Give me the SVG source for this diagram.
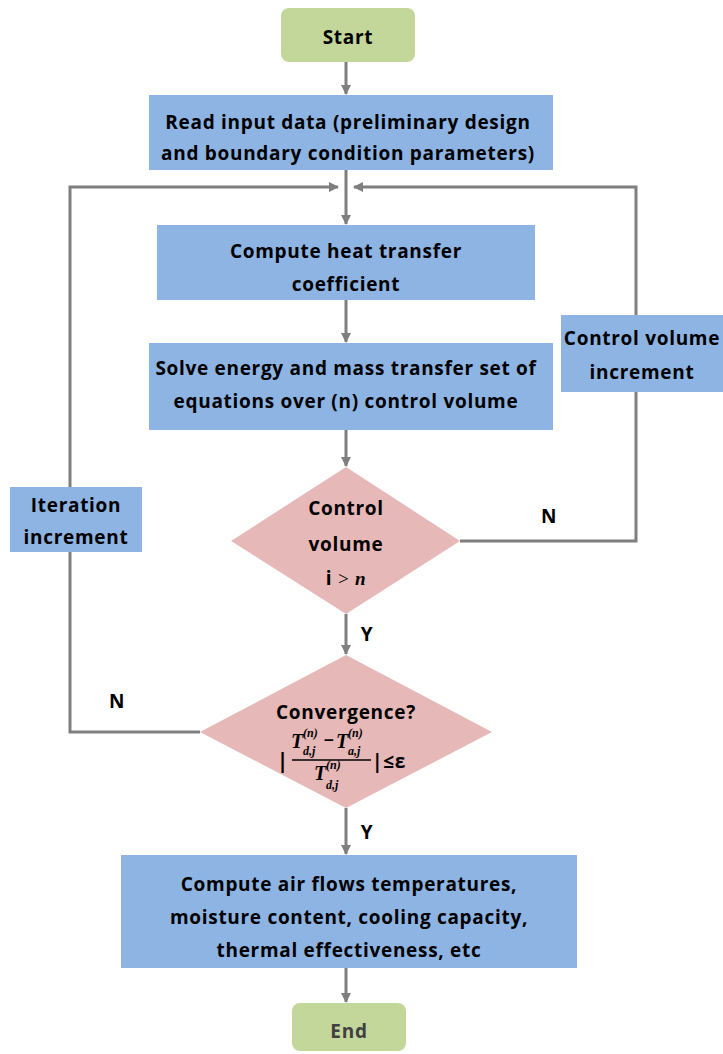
<svg xmlns="http://www.w3.org/2000/svg" width="723" height="1054" viewBox="0 0 723 1054">
<style>
.box{fill:#8db4e2;}
.term{fill:#c4d79b;}
.dia{fill:#e6b8b7;}
.t{font-family:"Open Sans","Liberation Sans",sans-serif;font-weight:bold;font-size:19px;letter-spacing:0.7px;fill:#000;text-anchor:middle;}
.c{stroke:#7f7f7f;stroke-width:3;fill:none;}
.m{font-family:"Liberation Serif",serif;font-style:italic;font-weight:bold;fill:#000;}
</style>
<defs>
<marker id="ah" markerWidth="10" markerHeight="10" refX="9" refY="5" orient="auto" markerUnits="userSpaceOnUse">
<path d="M0,0 L10,5 L0,10 Z" fill="#7f7f7f"/>
</marker>
</defs>
<rect width="723" height="1054" fill="#fff"/>
<g id="connectors">
<line class="c" x1="346" y1="62" x2="346" y2="94" marker-end="url(#ah)"/>
<line class="c" x1="346" y1="170" x2="346" y2="224" marker-end="url(#ah)"/>
<line class="c" x1="346" y1="300" x2="346" y2="342" marker-end="url(#ah)"/>
<line class="c" x1="346" y1="430" x2="346" y2="466" marker-end="url(#ah)"/>
<line class="c" x1="346" y1="614" x2="346" y2="654" marker-end="url(#ah)"/>
<line class="c" x1="346" y1="808" x2="346" y2="854" marker-end="url(#ah)"/>
<line class="c" x1="346" y1="968" x2="346" y2="1002" marker-end="url(#ah)"/>
<polyline class="c" points="460,541 636,541 636,187 354,187" marker-end="url(#ah)"/>
<polyline class="c" points="200,732 70,732 70,187 338,187" marker-end="url(#ah)"/>
</g>
<g id="start">
<rect class="term" x="281" y="8" width="134" height="54" rx="8"/>
<text class="t" x="348" y="44">Start</text>
</g>
<g id="read">
<rect class="box" x="149" y="95" width="404" height="75"/>
<text class="t" x="348" y="129">Read input data (preliminary design</text>
<text class="t" x="348" y="160">and boundary condition parameters)</text>
</g>
<g id="heat">
<rect class="box" x="157" y="225" width="378" height="75"/>
<text class="t" x="346" y="258">Compute heat transfer</text>
<text class="t" x="346" y="291">coefficient</text>
</g>
<g id="solve">
<rect class="box" x="149" y="343" width="404" height="87"/>
<text class="t" x="346" y="375">Solve energy and mass transfer set of</text>
<text class="t" x="346" y="408">equations over (n) control volume</text>
</g>
<g id="cvinc">
<rect class="box" x="561" y="315" width="162" height="77"/>
<text class="t" x="642" y="345">Control volume</text>
<text class="t" x="642" y="379">increment</text>
</g>
<g id="itinc">
<rect class="box" x="10" y="487" width="132" height="65"/>
<text class="t" x="76" y="512">Iteration</text>
<text class="t" x="76" y="544">increment</text>
</g>
<g id="cvcheck">
<polygon class="dia" points="346,467 460,541 346,614 231,541"/>
<text class="t" x="346" y="515">Control</text>
<text class="t" x="346" y="551">volume</text>
<text class="t" x="346" y="585">i <tspan font-family="Liberation Serif,serif" font-weight="normal">&gt;</tspan> <tspan font-family="Liberation Serif,serif" font-style="italic">n</tspan></text>
</g>
<g id="conv">
<polygon class="dia" points="346,655 492,732 346,808 200,732"/>
<text class="t" x="346" y="719">Convergence?</text>
<text class="t" x="283" y="768" style="font-size:21px">|</text>
<text class="m" x="291" y="748" font-size="20">T</text>
<text class="m" x="303" y="737" font-size="12">(n)</text>
<text class="m" x="303" y="755" font-size="12">d,j</text>
<text x="324" y="746" font-family="Liberation Sans,sans-serif" font-weight="bold" font-size="17">−</text>
<text class="m" x="336" y="748" font-size="20">T</text>
<text class="m" x="348" y="737" font-size="12">(n)</text>
<text class="m" x="348" y="755" font-size="12">a,j</text>
<line x1="292" y1="760" x2="371" y2="760" stroke="#000" stroke-width="1.3"/>
<text class="m" x="314" y="780" font-size="20">T</text>
<text class="m" x="326" y="769" font-size="12">(n)</text>
<text class="m" x="326" y="789" font-size="12">d,j</text>
<text class="t" x="372" y="768" style="text-anchor:start">|≤ε</text>
</g>
<g id="final">
<rect class="box" x="121" y="855" width="456" height="113"/>
<text class="t" x="349" y="891">Compute air flows temperatures,</text>
<text class="t" x="349" y="924">moisture content, cooling capacity,</text>
<text class="t" x="349" y="957">thermal effectiveness, etc</text>
</g>
<g id="end">
<rect class="term" x="292" y="1003" width="114" height="48" rx="8"/>
<text class="t" x="349" y="1038" style="fill:#404040">End</text>
</g>
<g id="labels">
<text class="t" x="549" y="523">N</text>
<text class="t" x="367" y="641">Y</text>
<text class="t" x="117" y="708">N</text>
<text class="t" x="367" y="839">Y</text>
</g>
</svg>
